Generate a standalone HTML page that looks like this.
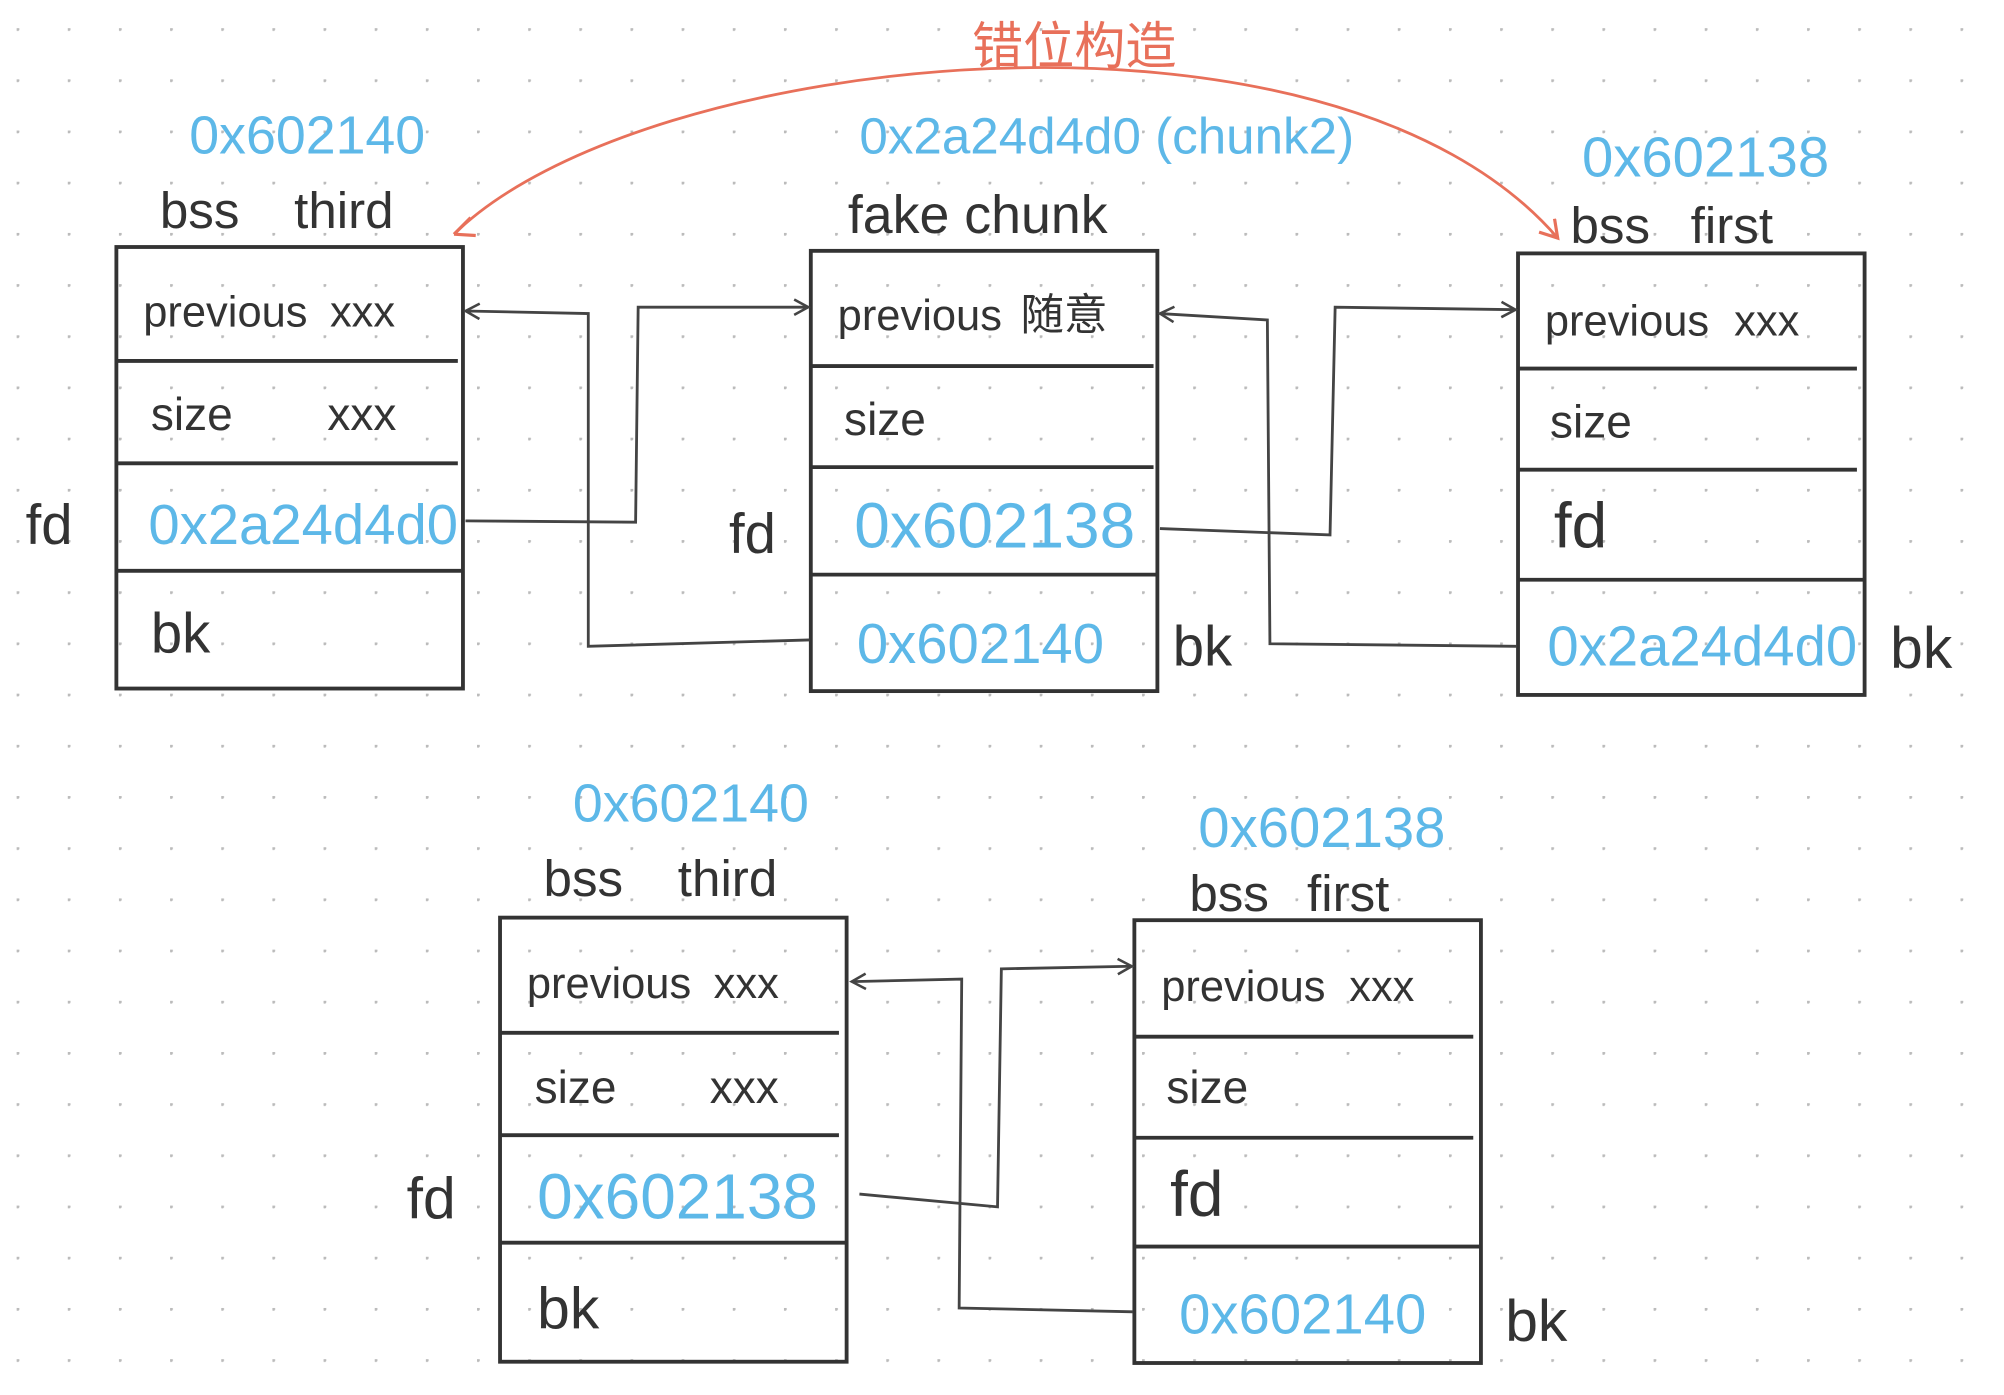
<!DOCTYPE html>
<html><head><meta charset="utf-8"><style>
html,body{margin:0;padding:0;background:#fff;}
svg{display:block;}
text{font-family:"Liberation Sans","Noto Sans CJK SC",sans-serif;}
.k{fill:#333;}
.b{fill:#5db8e8;}
</style></head><body>
<svg width="2004" height="1395" viewBox="0 0 1567 1090" preserveAspectRatio="none" xmlns="http://www.w3.org/2000/svg">
<defs>
<pattern id="dots" x="13" y="22" width="40" height="40" patternUnits="userSpaceOnUse">
<circle cx="0.8" cy="0.8" r="1.4" fill="#bbb"/>
</pattern>
<marker id="ah" markerWidth="14" markerHeight="14" refX="12" refY="7" orient="auto" markerUnits="userSpaceOnUse">
<path d="M1,1 L12,7 L1,13" fill="none" stroke="#444" stroke-width="2"/>
</marker>
<marker id="ar" markerWidth="18" markerHeight="18" refX="14" refY="9" orient="auto" markerUnits="userSpaceOnUse">
<path d="M1,1 L14,9 L1,17" fill="none" stroke="#e8705a" stroke-width="2.5"/>
</marker>
</defs>
<rect width="1567" height="1090" fill="url(#dots)"/>

<g fill="none" stroke="#333" stroke-width="3">
<rect x="91" y="193" width="271" height="345"/>
<line x1="91" y1="282" x2="358" y2="282"/><line x1="91" y1="362" x2="358" y2="362"/><line x1="91" y1="446" x2="362" y2="446"/>
<rect x="634" y="196" width="271" height="344"/>
<line x1="634" y1="286" x2="902" y2="286"/><line x1="634" y1="365" x2="902" y2="365"/><line x1="634" y1="449" x2="905" y2="449"/>
<rect x="1187" y="198" width="271" height="345"/>
<line x1="1187" y1="288" x2="1452" y2="288"/><line x1="1187" y1="367" x2="1452" y2="367"/><line x1="1187" y1="453" x2="1458" y2="453"/>
<rect x="391" y="717" width="271" height="347"/>
<line x1="391" y1="807" x2="656" y2="807"/><line x1="391" y1="887" x2="656" y2="887"/><line x1="391" y1="971" x2="662" y2="971"/>
<rect x="887" y="719" width="271" height="346"/>
<line x1="887" y1="810" x2="1152" y2="810"/><line x1="887" y1="889" x2="1152" y2="889"/><line x1="887" y1="974" x2="1158" y2="974"/>
</g>

<g fill="none" stroke="#444" stroke-width="2.2">
<polyline points="364,407 497,408 499,240 632,240" marker-end="url(#ah)"/>
<polyline points="633,500 460,505 460,245 364,243" marker-end="url(#ah)"/>
<polyline points="907,413 1040,418 1044,240 1185,242" marker-end="url(#ah)"/>
<polyline points="1186,505 993,503 991,250 907,245" marker-end="url(#ah)"/>
<polyline points="672,933 780,943 783,757 885,755" marker-end="url(#ah)"/>
<polyline points="886,1025 750,1022 752,765 666,767" marker-end="url(#ah)"/>
</g>
<path d="M355,183 C500,40 1040,-20 1218,186" fill="none" stroke="#e8705a" stroke-width="2.2" marker-end="url(#ar)"/>
<path d="M355,183 L368,170 M355,183 L372,184" stroke="#e8705a" stroke-width="2.5" fill="none"/>
<text x="760" y="50" font-size="40" fill="#e8705a">错位构造</text>

<!-- top labels -->
<text class="b" x="148" y="120" font-size="42">0x602140</text>
<text class="k" x="125" y="178" font-size="40">bss</text><text class="k" x="230" y="178" font-size="40">third</text>
<text class="b" x="672" y="120" font-size="40">0x2a24d4d0 (chunk2)</text>
<text class="k" x="663" y="182" font-size="42">fake chunk</text>
<text class="b" x="1237" y="138" font-size="44">0x602138</text>
<text class="k" x="1228" y="190" font-size="40">bss</text><text class="k" x="1322" y="190" font-size="40">first</text>

<!-- box1 -->
<text class="k" x="112" y="255" font-size="34">previous</text><text class="k" x="258" y="255" font-size="34">xxx</text>
<text class="k" x="118" y="336" font-size="36">size</text><text class="k" x="256" y="336" font-size="36">xxx</text>
<text class="b" x="116" y="425" font-size="44">0x2a24d4d0</text>
<text class="k" x="118" y="510" font-size="44">bk</text>
<text class="k" x="20" y="425" font-size="44">fd</text>

<!-- box2 -->
<text class="k" x="655" y="258" font-size="34">previous</text><text class="k" x="798" y="258" font-size="34">随意</text>
<text class="k" x="660" y="340" font-size="36">size</text>
<text class="b" x="668" y="428" font-size="50">0x602138</text>
<text class="b" x="670" y="518" font-size="44">0x602140</text>
<text class="k" x="570" y="432" font-size="44">fd</text>
<text class="k" x="917" y="520" font-size="44">bk</text>

<!-- box3 -->
<text class="k" x="1208" y="262" font-size="34">previous</text><text class="k" x="1356" y="262" font-size="34">xxx</text>
<text class="k" x="1212" y="342" font-size="36">size</text>
<text class="k" x="1215" y="428" font-size="50">fd</text>
<text class="b" x="1210" y="520" font-size="44">0x2a24d4d0</text>
<text class="k" x="1478" y="522" font-size="46">bk</text>

<!-- bottom labels -->
<text class="b" x="448" y="642" font-size="42">0x602140</text>
<text class="k" x="425" y="700" font-size="40">bss</text><text class="k" x="530" y="700" font-size="40">third</text>
<text class="b" x="937" y="662" font-size="44">0x602138</text>
<text class="k" x="930" y="712" font-size="40">bss</text><text class="k" x="1022" y="712" font-size="40">first</text>

<!-- box4 -->
<text class="k" x="412" y="780" font-size="34">previous</text><text class="k" x="558" y="780" font-size="34">xxx</text>
<text class="k" x="418" y="862" font-size="36">size</text><text class="k" x="555" y="862" font-size="36">xxx</text>
<text class="b" x="420" y="952" font-size="50">0x602138</text>
<text class="k" x="420" y="1038" font-size="46">bk</text>
<text class="k" x="318" y="952" font-size="46">fd</text>

<!-- box5 -->
<text class="k" x="908" y="782" font-size="34">previous</text><text class="k" x="1055" y="782" font-size="34">xxx</text>
<text class="k" x="912" y="862" font-size="36">size</text>
<text class="k" x="915" y="950" font-size="50">fd</text>
<text class="b" x="922" y="1042" font-size="44">0x602140</text>
<text class="k" x="1177" y="1048" font-size="46">bk</text>
</svg>
</body></html>
